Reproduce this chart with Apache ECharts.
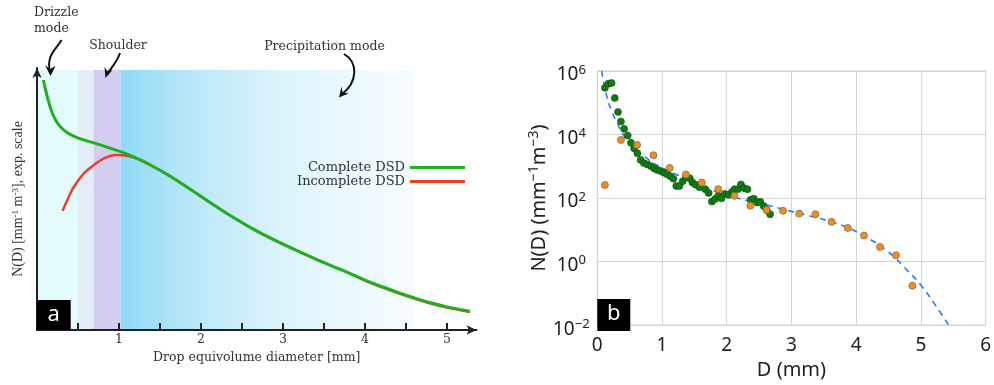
<!DOCTYPE html>
<html>
<head>
<meta charset="utf-8">
<script src="https://cdn.jsdelivr.net/npm/echarts@6/dist/echarts.min.js"></script>
<style>html,body{margin:0;padding:0;background:#fff;}#c{width:994px;height:385px;}</style>
</head>
<body>
<div id="c"></div>
<script>
// ---------- Panel a: schematic DSD (relative, exp. scale 0..100) ----------
var aCompleteD = [0.078,0.126,0.188,0.268,0.37,0.512,0.695,0.858,1.02,1.2,1.4,1.6,1.8,2.0,2.2,2.4,2.6,2.8,3.0,3.2,3.4,3.6,3.8,4.0,4.2,4.4,4.6,4.8,5.0,5.28];
var aCompleteV = [96.2,89.7,83.3,78.8,75.9,73.7,72.0,70.3,68.6,66.3,63.2,59.6,55.6,51.4,47.2,43.2,39.5,36.1,33.0,30.1,27.3,24.6,22.0,19.2,16.8,14.5,12.4,10.5,8.9,7.2];
var aIncompleteD = [0.313,0.37,0.45,0.573,0.695,0.817,0.96,1.1,1.26,1.43,1.6,1.8,2.0,2.2,2.4,2.6,2.8,3.0,3.2,3.4,3.6,3.8,4.0,4.2,4.4,4.6,4.8,5.0,5.28];
var aIncompleteV = [45.9,50.0,55.1,60.3,63.5,66.0,67.3,67.0,65.4,62.7,59.6,55.6,51.4,47.2,43.2,39.5,36.1,33.0,30.1,27.3,24.6,22.0,19.0,16.5,14.2,12.1,10.2,8.6,6.9];
var aTickValues = [0.5,1,1.5,2,2.5,3,3.5,4,4.5,5];
var aLabelValues = [1,2,3,4,5];
var aBands = [[0,0.5],[0.5,0.69],[0.69,1.02],[1.02,4.6]];

// ---------- Panel b: measured DSD, log10 N(D) ----------
var bGreenD = [0.118,0.17,0.22,0.27,0.32,0.365,0.415,0.47,0.52,0.57,0.62,0.67,0.72,0.775,0.83,0.88,0.93,0.98,1.03,1.08,1.13,1.175,1.22,1.27,1.32,1.37,1.43,1.47,1.52,1.58,1.67,1.72,1.77,1.82,1.87,1.92,1.97,2.03,2.08,2.12,2.17,2.22,2.27,2.32,2.37,2.42,2.47,2.52,2.57,2.62,2.67];
var bGreenLogN = [5.47,5.6,5.62,5.15,4.71,4.41,4.18,3.97,3.74,3.56,3.41,3.2,3.1,3.06,3.0,2.93,2.88,2.85,2.8,2.75,2.69,2.61,2.38,2.38,2.53,2.67,2.62,2.49,2.42,2.34,2.28,2.16,1.89,1.97,2.07,1.99,2.13,2.1,2.19,2.28,2.28,2.43,2.31,2.28,1.95,1.98,1.86,1.88,1.75,1.62,1.49];
var bOrangeD = [0.118,0.365,0.615,0.868,1.118,1.37,1.615,1.87,2.12,2.365,2.615,2.87,3.12,3.37,3.62,3.87,4.12,4.37,4.615,4.87];
var bOrangeLogN = [2.41,3.83,3.67,3.35,2.95,2.74,2.49,2.28,2.07,1.76,1.62,1.6,1.51,1.49,1.25,1.06,0.82,0.46,0.2,-0.76];
var bFitD = [0.067,0.145,0.22,0.3,0.4,0.5,0.6,0.8,1.0,1.2,1.5,1.8,2.1,2.4,2.7,3.0,3.3,3.6,3.9,4.2,4.5,4.8,5.0,5.2,5.43];
var bFitLogN = [6.0,5.21,4.75,4.39,4.0,3.72,3.52,3.2,2.95,2.76,2.47,2.22,2.03,1.88,1.74,1.58,1.43,1.26,1.04,0.72,0.3,-0.3,-0.74,-1.3,-2.0];

function zip(a, b) { return a.map(function (v, i) { return [v, b[i]]; }); }

var SERIF = '"DejaVu Serif", serif';
var TIMES = '"Liberation Serif", "DejaVu Serif", serif';
var SANS = '"Noto Sans", "Open Sans", sans-serif';

var chart = echarts.init(document.getElementById('c'), null, { renderer: 'canvas' });

var supMinus = function (v) { return v < 0 ? '\u2212' + Math.abs(v) : String(v); };

var option = {
  animation: false,
  backgroundColor: '#fff',
  grid: [
    { left: 37, top: 68, width: 439.5, height: 262, containLabel: false },
    { left: 597.3, top: 71, width: 390, height: 260, show: true, borderColor: '#c8c8c8', borderWidth: 1, backgroundColor: 'transparent', containLabel: false }
  ],
  legend: {
    data: ['Complete DSD', 'Incomplete DSD'],
    orient: 'vertical',
    align: 'right',
    right: 524,
    top: 156,
    itemWidth: 55,
    itemHeight: 3,
    itemGap: 1,
    icon: 'rect',
    textStyle: { fontFamily: SERIF, fontSize: 13, color: '#333' }
  },
  xAxis: [
    {
      gridIndex: 0, type: 'value', min: 0, max: 5.36, z: 10,
      name: 'Drop equivolume diameter [mm]', nameLocation: 'middle', nameGap: 17,
      nameTextStyle: { fontFamily: SERIF, fontSize: 12.5, color: '#333' },
      axisLine: { show: true, onZero: false, lineStyle: { color: '#222', width: 2 }, symbol: ['none', 'arrow'], symbolSize: [7, 10] },
      axisTick: { show: true, inside: true, length: 7, lineStyle: { color: '#222', width: 2 }, customValues: aTickValues },
      axisLabel: { show: true, customValues: aLabelValues, margin: 3, fontFamily: SERIF, fontSize: 12.5, color: '#333' },
      splitLine: { show: false }
    },
    {
      gridIndex: 1, type: 'value', min: 0, max: 6, interval: 1,
      name: 'D (mm)', nameLocation: 'middle', nameGap: 33,
      nameTextStyle: { fontFamily: SANS, fontSize: 20, color: '#222' },
      axisLine: { show: false },
      axisTick: { show: false },
      axisLabel: { margin: 11, fontFamily: SANS, fontSize: 19, color: '#222' },
      splitLine: { show: true, lineStyle: { color: '#d4d4d4', width: 1 } }
    }
  ],
  yAxis: [
    {
      gridIndex: 0, type: 'value', min: 0, max: 100.8, z: 10,
      name: 'N(D) [mm{s|-1} m{s|-3}], exp. scale', nameLocation: 'middle', nameGap: 11, nameRotate: 90,
      nameTextStyle: { fontFamily: TIMES, fontSize: 14, color: '#333',
        rich: { s: { fontFamily: TIMES, fontSize: 9, color: '#333', padding: [0, 0, 6, 0] } } },
      axisLine: { show: true, onZero: false, lineStyle: { color: '#222', width: 2 }, symbol: ['none', 'arrow'], symbolSize: [7, 10] },
      axisTick: { show: false },
      axisLabel: { show: false },
      splitLine: { show: false }
    },
    {
      gridIndex: 1, type: 'value', min: -2, max: 6, interval: 2,
      name: 'N(D) (mm{s|\u22121}m{s|\u22123})', nameLocation: 'middle', nameGap: 46, nameRotate: 90,
      nameTextStyle: { fontFamily: SANS, fontSize: 20, color: '#222',
        rich: { s: { fontFamily: SANS, fontSize: 14, color: '#222', padding: [0, 0, 10, 0] } } },
      axisLine: { show: false },
      axisTick: { show: false },
      axisLabel: {
        margin: 26, align: 'center', padding: [8, 0, 0, 0],
        formatter: function (v) { return '{b|10}{s|' + supMinus(v) + '}'; },
        rich: {
          b: { fontFamily: SANS, fontSize: 19, color: '#222' },
          s: { fontFamily: SANS, fontSize: 13, color: '#222', padding: [0, 0, 10, 0] }
        }
      },
      splitLine: { show: true, lineStyle: { color: '#d4d4d4', width: 1 } }
    }
  ],
  series: [
    {
      name: 'bands', type: 'line', xAxisIndex: 0, yAxisIndex: 0, data: [[0, 0]],
      symbol: 'none', lineStyle: { width: 0 }, silent: true, z: 1,
      markArea: {
        silent: true,
        data: [
          [{ xAxis: aBands[0][0], yAxis: 0, itemStyle: { color: '#e4fbfc' } }, { xAxis: aBands[0][1], yAxis: 100 }],
          [{ xAxis: aBands[1][0], yAxis: 0, itemStyle: { color: '#e2edf8' } }, { xAxis: aBands[1][1], yAxis: 100 }],
          [{ xAxis: aBands[2][0], yAxis: 0, itemStyle: { color: '#d4ccf1' } }, { xAxis: aBands[2][1], yAxis: 100 }],
          [{ xAxis: aBands[3][0], yAxis: 0, itemStyle: { color: {
              type: 'linear', x: 0, y: 0, x2: 1, y2: 0,
              colorStops: [
                { offset: 0, color: '#8ed9f7' },
                { offset: 0.12, color: '#a6e1f8' },
                { offset: 0.3, color: '#c0eaf9' },
                { offset: 0.55, color: '#dcf4fc' },
                { offset: 0.8, color: '#ecf9fe' },
                { offset: 1, color: '#f6fcff' }
              ] } } }, { xAxis: aBands[3][1], yAxis: 100 }]
        ]
      }
    },
    {
      name: 'Incomplete DSD', type: 'line', xAxisIndex: 0, yAxisIndex: 0, z: 3,
      data: zip(aIncompleteD, aIncompleteV), smooth: 0.4, symbol: 'none',
      itemStyle: { color: '#ee3d2a' }, lineStyle: { color: '#ee3d2a', width: 2.5 }
    },
    {
      name: 'Complete DSD', type: 'line', xAxisIndex: 0, yAxisIndex: 0, z: 4,
      data: zip(aCompleteD, aCompleteV), smooth: 0.4, symbol: 'none',
      itemStyle: { color: '#1db21d' }, lineStyle: { color: '#1db21d', width: 3 }
    },
    {
      name: 'fit', type: 'line', xAxisIndex: 1, yAxisIndex: 1, z: 3,
      data: zip(bFitD, bFitLogN), smooth: true, symbol: 'none',
      lineStyle: { color: '#2a7bf0', width: 1.6, type: [6, 5] }
    },
    {
      name: 'green', type: 'scatter', xAxisIndex: 1, yAxisIndex: 1, z: 4,
      data: zip(bGreenD, bGreenLogN), symbolSize: 7,
      itemStyle: { color: '#137a13', borderColor: '#0c4f0c', borderWidth: 0.6, opacity: 1 }
    },
    {
      name: 'orange', type: 'scatter', xAxisIndex: 1, yAxisIndex: 1, z: 5,
      data: zip(bOrangeD, bOrangeLogN), symbolSize: 7,
      itemStyle: { color: '#ff8a12', borderColor: '#6e6e6e', borderWidth: 0.8, opacity: 1 }
    }
  ],
  graphic: [
    // panel labels
    { type: 'rect', shape: { x: 36.7, y: 300, width: 34, height: 30 }, style: { fill: '#000' }, z: 100 },
    { type: 'text', x: 53.7, y: 315, style: { text: 'a', fill: '#fff', font: '22px "Noto Sans", sans-serif', align: 'center', verticalAlign: 'middle' }, z: 101 },
    { type: 'rect', shape: { x: 597.3, y: 299, width: 33, height: 32 }, style: { fill: '#000' }, z: 100 },
    { type: 'text', x: 613.8, y: 314, style: { text: 'b', fill: '#fff', font: '22px "Noto Sans", sans-serif', align: 'center', verticalAlign: 'middle' }, z: 101 },
    // annotations panel a
    { type: 'text', x: 34, y: 4.5, style: { text: 'Drizzle\nmode', fill: '#333', font: '12.5px "DejaVu Serif", serif', align: 'left', verticalAlign: 'top', lineHeight: 16 }, z: 50 },
    { type: 'text', x: 118, y: 45.5, style: { text: 'Shoulder', fill: '#333', font: '12.5px "DejaVu Serif", serif', align: 'center', verticalAlign: 'middle' }, z: 50 },
    { type: 'text', x: 324.5, y: 46.5, style: { text: 'Precipitation mode', fill: '#333', font: '12.5px "DejaVu Serif", serif', align: 'center', verticalAlign: 'middle' }, z: 50 },
    // arrows
    { type: 'bezierCurve', shape: { x1: 61.5, y1: 40, cpx1: 56, cpy1: 50, cpx2: 46, cpy2: 55, x2: 50, y2: 72 }, style: { stroke: '#111', lineWidth: 2, fill: null }, z: 50 },
    { type: 'polygon', shape: { points: [[50.5, 76], [45, 65], [50, 69], [55.5, 66]] }, style: { fill: '#111' }, z: 50 },
    { type: 'bezierCurve', shape: { x1: 120, y1: 53, cpx1: 117, cpy1: 62, cpx2: 112, cpy2: 67, x2: 107, y2: 74 }, style: { stroke: '#111', lineWidth: 2, fill: null }, z: 50 },
    { type: 'polygon', shape: { points: [[105.5, 78], [104.5, 67], [107.5, 71.5], [112.5, 70]] }, style: { fill: '#111' }, z: 50 },
    { type: 'bezierCurve', shape: { x1: 344, y1: 54, cpx1: 358, cpy1: 62, cpx2: 358, cpy2: 82, x2: 342, y2: 94 }, style: { stroke: '#111', lineWidth: 2, fill: null }, z: 50 },
    { type: 'polygon', shape: { points: [[339, 97.5], [341.5, 86.5], [342.5, 92], [348.5, 93.5]] }, style: { fill: '#111' }, z: 50 }
  ]
};
chart.setOption(option);
</script>
</body>
</html>
